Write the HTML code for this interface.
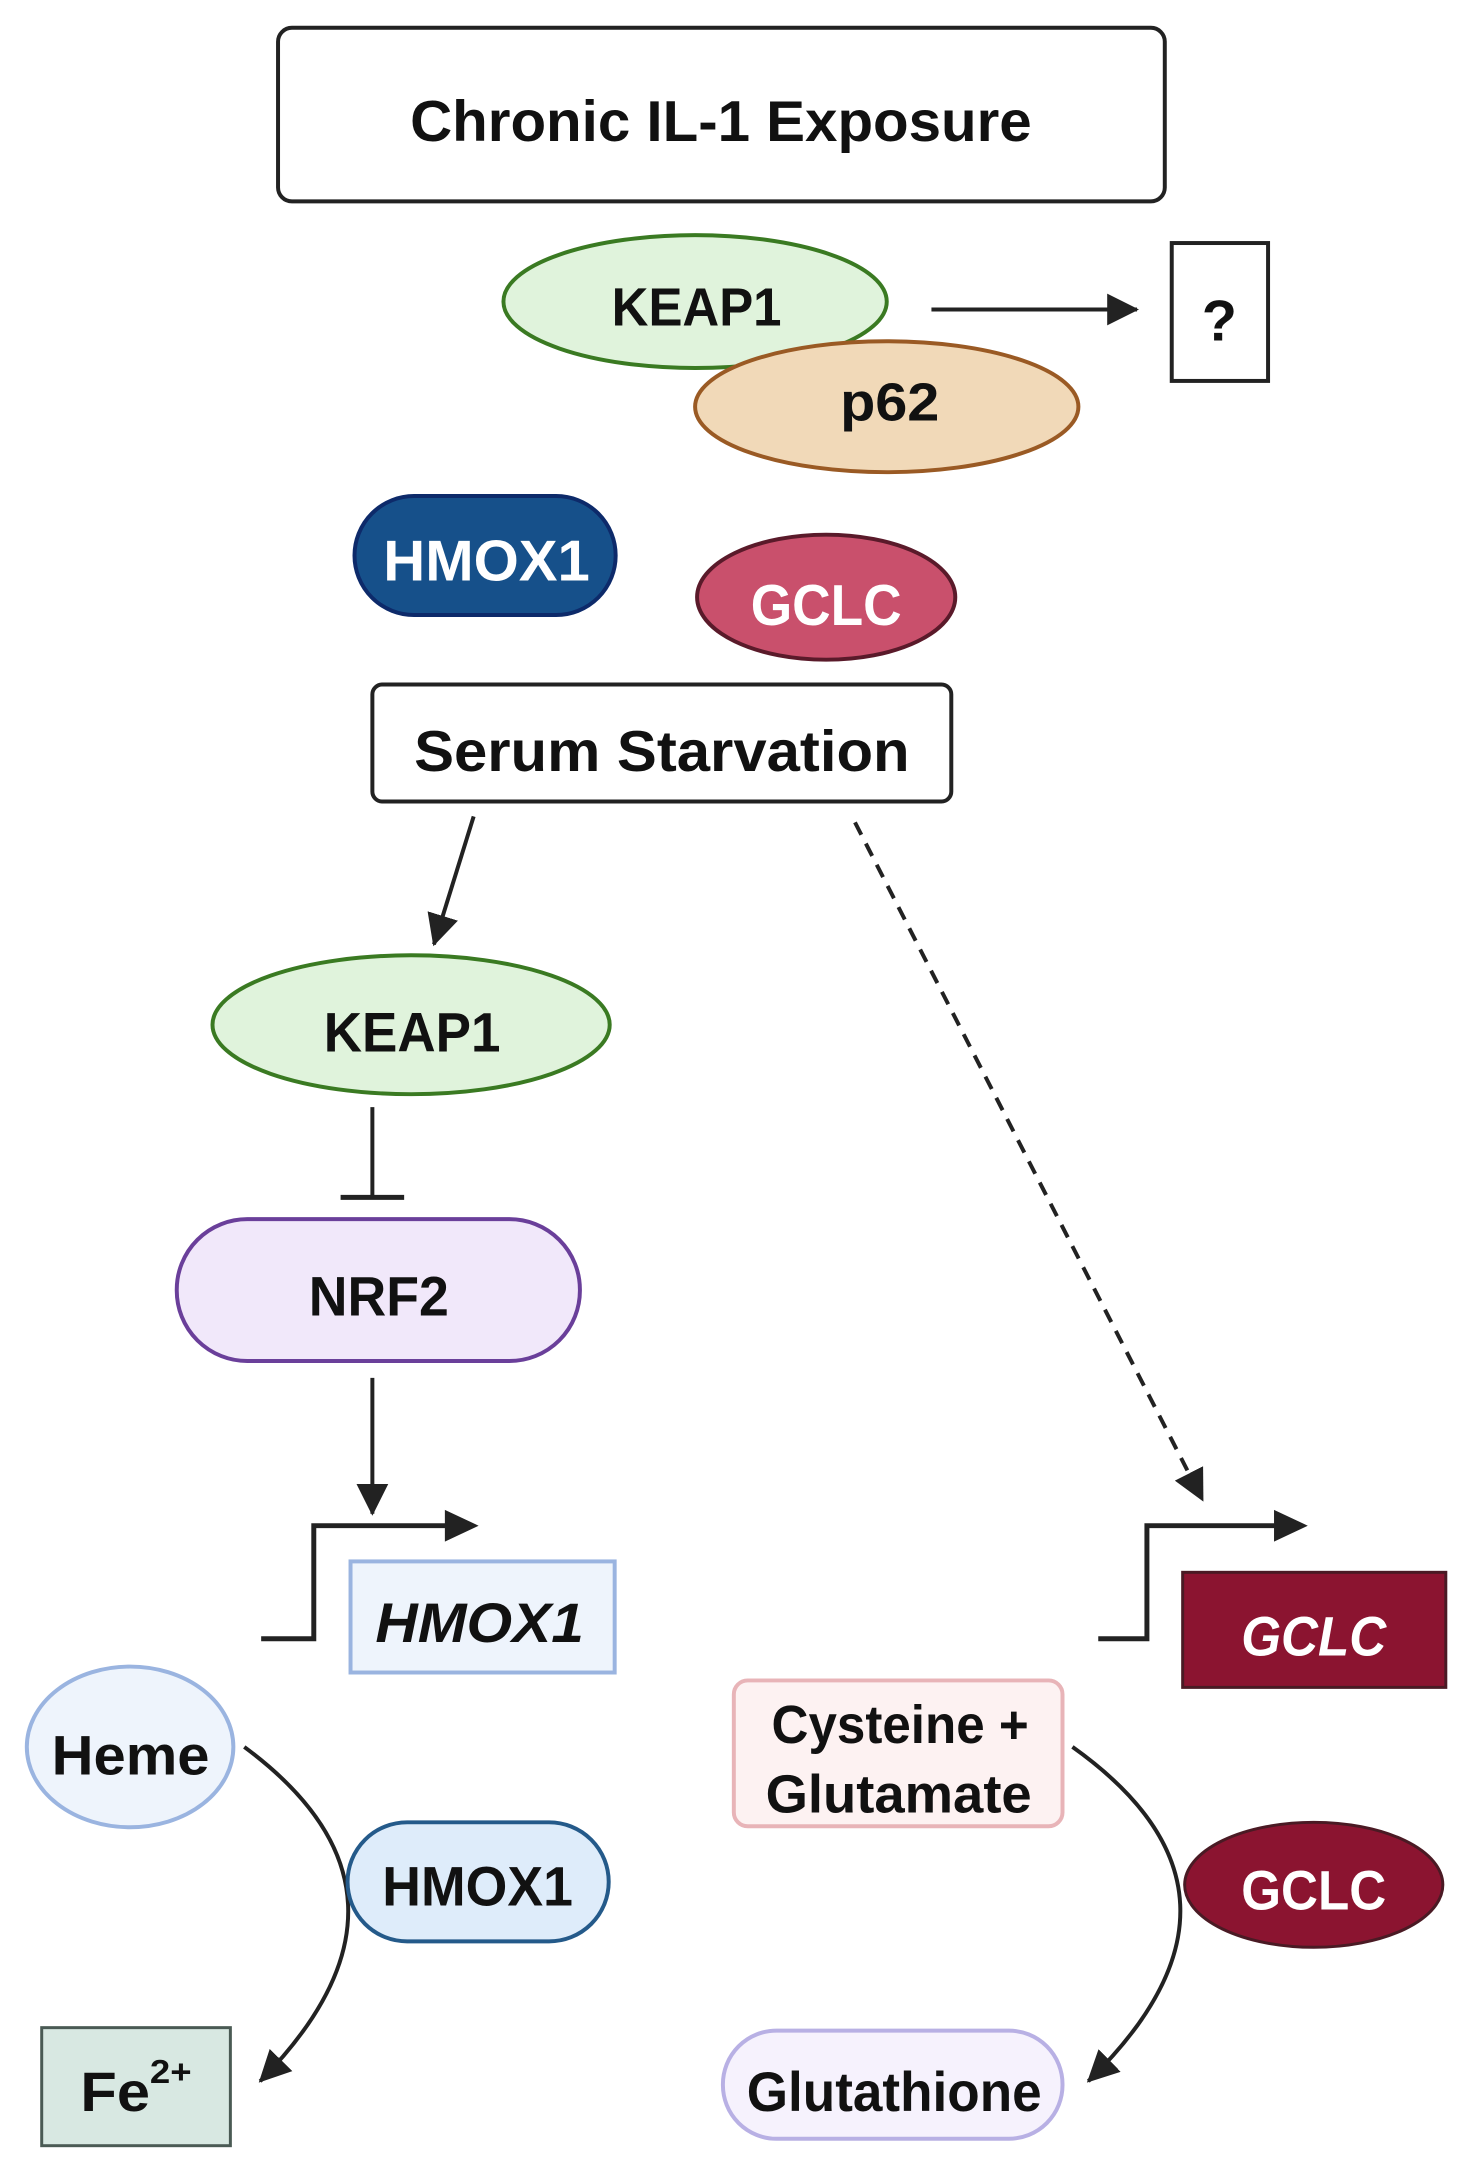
<!DOCTYPE html>
<html><head><meta charset="utf-8"><style>html,body{margin:0;padding:0;background:#fff}svg{display:block}text{font-family:"Liberation Sans",sans-serif;font-weight:bold}</style></head>
<body>
<svg width="1469" height="2180" viewBox="0 0 1469 2180" xmlns="http://www.w3.org/2000/svg">
<defs>
<marker id="ab" markerWidth="34" markerHeight="32" refX="30" refY="16" orient="auto" markerUnits="userSpaceOnUse"><path d="M0,0 L32,16 L0,32 z" fill="#222"/></marker>
</defs>
<g fill="#111" font-size="58" transform="scale(0.993 0.992)">
<rect x="280" y="28" width="893" height="175" rx="14" fill="#fff" stroke="#222" stroke-width="4"/>
<text x="413" y="142" textLength="626" lengthAdjust="spacingAndGlyphs">Chronic IL-1 Exposure</text>

<ellipse cx="700" cy="304" rx="193" ry="67" fill="#e0f3dc" stroke="#3a7a22" stroke-width="4"/>
<ellipse cx="893" cy="410" rx="193" ry="66" fill="#f1d9b8" stroke="#9a5a24" stroke-width="4"/>
<text x="616" y="328" textLength="171" lengthAdjust="spacingAndGlyphs" font-size="54">KEAP1</text>
<text x="846" y="424" textLength="100" lengthAdjust="spacingAndGlyphs" font-size="54">p62</text>
<line x1="938" y1="312" x2="1145" y2="312" stroke="#222" stroke-width="4" marker-end="url(#ab)"/>
<rect x="1180" y="245" width="97" height="139" fill="#fff" stroke="#222" stroke-width="4"/>
<text x="1228" y="343" text-anchor="middle" font-size="58">?</text>

<rect x="357" y="500" width="263" height="120" rx="60" fill="#16508a" stroke="#0d2a6a" stroke-width="4"/>
<text x="386" y="585" textLength="208" lengthAdjust="spacingAndGlyphs" font-size="58" fill="#fff">HMOX1</text>
<ellipse cx="832" cy="602" rx="130" ry="63" fill="#c9506c" stroke="#5a1a2a" stroke-width="4"/>
<text x="756" y="630" textLength="152" lengthAdjust="spacingAndGlyphs" font-size="58" fill="#fff">GCLC</text>

<rect x="375" y="690" width="583" height="118" rx="10" fill="#fff" stroke="#222" stroke-width="4"/>
<text x="417" y="777" textLength="499" lengthAdjust="spacingAndGlyphs" font-size="58">Serum Starvation</text>

<line x1="477" y1="823" x2="437" y2="952" stroke="#222" stroke-width="4" marker-end="url(#ab)"/>
<line x1="861" y1="829" x2="1211" y2="1512" stroke="#222" stroke-width="4" stroke-dasharray="14,10" marker-end="url(#ab)"/>

<ellipse cx="414" cy="1033" rx="200" ry="70" fill="#e0f3dc" stroke="#3a7a22" stroke-width="4"/>
<text x="326" y="1060" textLength="178" lengthAdjust="spacingAndGlyphs" font-size="56">KEAP1</text>
<line x1="375" y1="1116" x2="375" y2="1207" stroke="#222" stroke-width="4"/>
<line x1="343" y1="1207" x2="407" y2="1207" stroke="#222" stroke-width="5"/>

<rect x="178" y="1229" width="406" height="143" rx="71" fill="#f1e8fa" stroke="#6a3f9a" stroke-width="4"/>
<text x="311" y="1326" textLength="141" lengthAdjust="spacingAndGlyphs" font-size="56">NRF2</text>
<line x1="375" y1="1389" x2="375" y2="1526" stroke="#222" stroke-width="4" marker-end="url(#ab)"/>

<polyline points="263,1652 316,1652 316,1538 450,1538" fill="none" stroke="#222" stroke-width="5"/>
<path d="M448,1522 L482,1538 L448,1554 z" fill="#222"/>
<rect x="353" y="1574" width="266" height="112" fill="#eef4fc" stroke="#9ab4e0" stroke-width="4"/>
<text x="378" y="1655" textLength="210" lengthAdjust="spacingAndGlyphs" font-size="56" font-style="italic">HMOX1</text>

<polyline points="1106,1652 1155,1652 1155,1538 1285,1538" fill="none" stroke="#222" stroke-width="5"/>
<path d="M1283,1522 L1317,1538 L1283,1554 z" fill="#222"/>
<rect x="1191" y="1585" width="265" height="116" fill="#8b1430" stroke="#4a1a24" stroke-width="3"/>
<text x="1250" y="1669" textLength="146" lengthAdjust="spacingAndGlyphs" font-size="56" font-style="italic" fill="#fff">GCLC</text>

<ellipse cx="131" cy="1761" rx="104" ry="81" fill="#eef4fc" stroke="#9ab4e0" stroke-width="4"/>
<text x="52" y="1789" textLength="159" lengthAdjust="spacingAndGlyphs" font-size="56">Heme</text>
<path d="M246,1761 Q447,1910 262,2098" fill="none" stroke="#222" stroke-width="4" marker-end="url(#ab)"/>
<rect x="350" y="1837" width="263" height="120" rx="60" fill="#deecfa" stroke="#245a8a" stroke-width="4"/>
<text x="385" y="1921" textLength="192" lengthAdjust="spacingAndGlyphs" font-size="56">HMOX1</text>
<rect x="42" y="2044" width="190" height="119" fill="#d8e8e2" stroke="#4a5a54" stroke-width="3"/>
<text x="81" y="2128" textLength="70" lengthAdjust="spacingAndGlyphs" font-size="56">Fe</text>
<text x="151" y="2100" textLength="42" lengthAdjust="spacingAndGlyphs" font-size="34">2+</text>

<rect x="739" y="1694" width="331" height="147" rx="14" fill="#fdf2f2" stroke="#e8b4b8" stroke-width="4"/>
<text x="777" y="1757" textLength="259" lengthAdjust="spacingAndGlyphs" font-size="54">Cysteine +</text>
<text x="771" y="1827" textLength="268" lengthAdjust="spacingAndGlyphs" font-size="54">Glutamate</text>
<path d="M1080,1761 Q1289,1910 1096,2098" fill="none" stroke="#222" stroke-width="4" marker-end="url(#ab)"/>
<ellipse cx="1323" cy="1900" rx="130" ry="63" fill="#8b1430" stroke="#4a1a24" stroke-width="3"/>
<text x="1250" y="1925" textLength="146" lengthAdjust="spacingAndGlyphs" font-size="56" fill="#fff">GCLC</text>
<rect x="728" y="2047" width="342" height="109" rx="54" fill="#f6f2fd" stroke="#b8b0e4" stroke-width="4"/>
<text x="752" y="2128" textLength="297" lengthAdjust="spacingAndGlyphs" font-size="56">Glutathione</text>
</g>
</svg>
</body></html>
